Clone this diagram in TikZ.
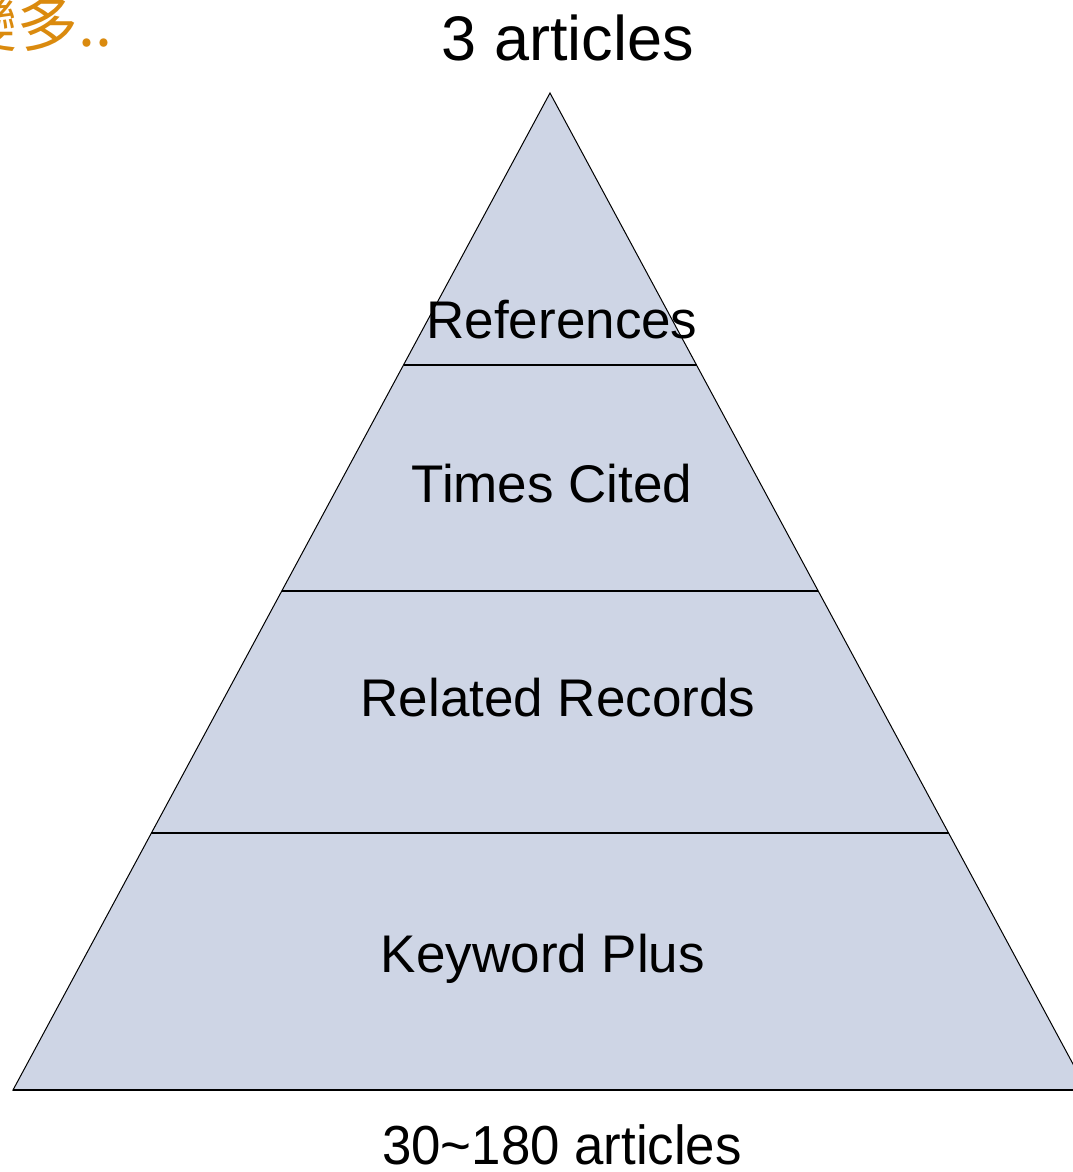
\documentclass[tikz,border=0pt]{standalone}
\usepackage{fontspec}
\setmainfont{Liberation Sans}
\newfontfamily\cjkfont{Noto Sans CJK TC}
\usetikzlibrary{calc}
\usetikzlibrary{positioning}
\definecolor{layerfill}{HTML}{CED5E5}
\definecolor{noteorange}{HTML}{DA8A0E}

\begin{document}
\begin{tikzpicture}[x=1pt, y=-1pt,
                    layertext/.style={inner sep=0pt, anchor=base, font=\fontsize{53}{60}\selectfont},
                    counttext/.style={inner sep=0pt, anchor=base}]
                    \useasboundingbox (0,0) rectangle (1072,1172);
                    \coordinate (apex) at (550,93);
                    \coordinate (bl) at (13,1090);
                    \coordinate (br) at (1087,1090);
                    \draw[fill=layerfill, line width=1pt] (apex) -- (bl) -- (br) -- cycle;
                    \draw[line width=1.6pt] (bl) -- (br);
                    \foreach \t in {0.2728, 0.4995, 0.7422}
                        \draw[line width=1.2pt] ($(apex)!\t!(bl)$) -- ($(apex)!\t!(br)$);
                    \node[layertext] (refs) at (562,338) {References};
                    \node[layertext] (cited) at (552,502) {Times Cited};
                    \node[layertext] (related) at (558,716) {Related Records};
                    \node[layertext] (keyword) at (543,972) {Keyword Plus};
                    \node[counttext, font=\fontsize{63}{70}\selectfont] (top) at (568,60) {3 articles};
                    \node[counttext, font=\fontsize{55}{64}\selectfont, xscale=0.96] (bottom) at (562,1164) {30\textasciitilde 180 articles};
                    \node[inner sep=0pt, anchor=base east, text=noteorange, font=\cjkfont\fontsize{61}{68}\selectfont] (note) at (113,47) {變多..};
                \end{tikzpicture}
\end{document}
